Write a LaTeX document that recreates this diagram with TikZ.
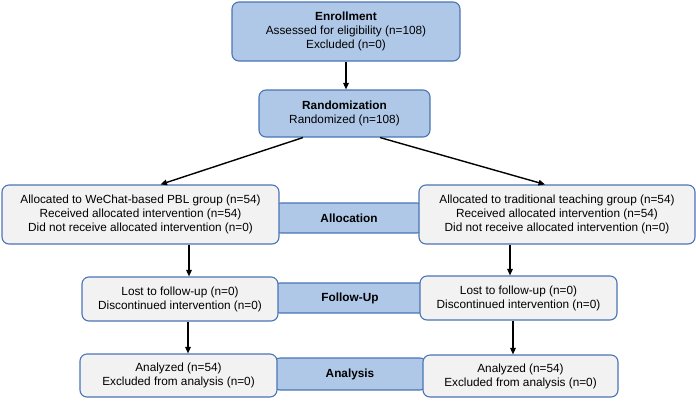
\documentclass[tikz,border=0pt]{standalone}
\usepackage{fontspec}
\setmainfont{Liberation Sans}
\usetikzlibrary{arrows.meta,calc}
\definecolor{bfill}{HTML}{AFC8E8}
\definecolor{gfill}{HTML}{F2F2F2}
\definecolor{bline}{HTML}{4A75B5}
\begin{document}
\begin{tikzpicture}[x=1pt,y=1pt,
  base/.style={draw=bline,line width=1.1pt,rounded corners=7pt,align=center,inner sep=0pt,
    font=\fontsize{11.8}{14}\selectfont},
  bluebox/.style={base,fill=bfill},
  graybox/.style={base,fill=gfill},
  conn/.style={line width=1.4pt,-{Triangle[length=6.5pt,width=5.5pt]}}]
\useasboundingbox (0,0) rectangle (696,-400);
% blue phase labels (behind)
\node[bluebox,minimum width=150,minimum height=30] (alloc) at (349,-218) {\textbf{Allocation}};
\node[bluebox,minimum width=154,minimum height=30] (fu) at (350,-298) {\textbf{Follow-Up}};
\node[bluebox,minimum width=154,minimum height=32] (an) at (350,-374) {\textbf{Analysis}};
% top
\node[bluebox,minimum width=228,minimum height=59] (enroll) at (346,-31.5)
  {\textbf{Enrollment}\\Assessed for eligibility (n=108)\\Excluded (n=0)};
\node[bluebox,minimum width=171,minimum height=47] (rand) at (344.5,-113.5)
  {\textbf{Randomization}\\Randomized (n=108)};
% allocation row
\node[graybox,minimum width=277,minimum height=59] (allocL) at (140.5,-214.5)
  {Allocated to WeChat-based PBL group (n=54)\\Received allocated intervention (n=54)\\Did not receive allocated intervention (n=0)};
\node[graybox,minimum width=276,minimum height=59] (allocR) at (557,-214.5)
  {Allocated to traditional teaching group (n=54)\\Received allocated intervention (n=54)\\Did not receive allocated intervention (n=0)};
% follow-up row
\node[graybox,minimum width=196,minimum height=44] (fuL) at (180,-299)
  {Lost to follow-up (n=0)\\Discontinued intervention (n=0)};
\node[graybox,minimum width=197,minimum height=44] (fuR) at (518.5,-298)
  {Lost to follow-up (n=0)\\Discontinued intervention (n=0)};
% analysis row
\node[graybox,minimum width=197,minimum height=43] (anL) at (178.5,-375.5)
  {Analyzed (n=54)\\Excluded from analysis (n=0)};
\node[graybox,minimum width=195,minimum height=42] (anR) at (520.5,-376)
  {Analyzed (n=54)\\Excluded from analysis (n=0)};
% connectors
\draw[conn] (enroll.south) -- (enroll.south |- rand.north);
\draw[conn] ($(rand.south)+(-41.5,0)$) -- ($(allocL.north)+(20,0)$);
\draw[conn] ($(rand.south)+(35.5,0)$) -- ($(allocR.north)+(-12,0)$);
\draw[conn] ($(allocL.south)+(48.5,0)$) -- ($(fuL.north)+(9,0)$);
\draw[conn] ($(allocR.south)+(-47,0)$) -- ($(fuR.north)+(-8.5,0)$);
\draw[conn] ($(fuL.south)+(8,0)$) -- ($(anL.north)+(9.5,0)$);
\draw[conn] ($(fuR.south)+(-5.5,0)$) -- ($(anR.north)+(-7.5,0)$);
\end{tikzpicture}
\end{document}
